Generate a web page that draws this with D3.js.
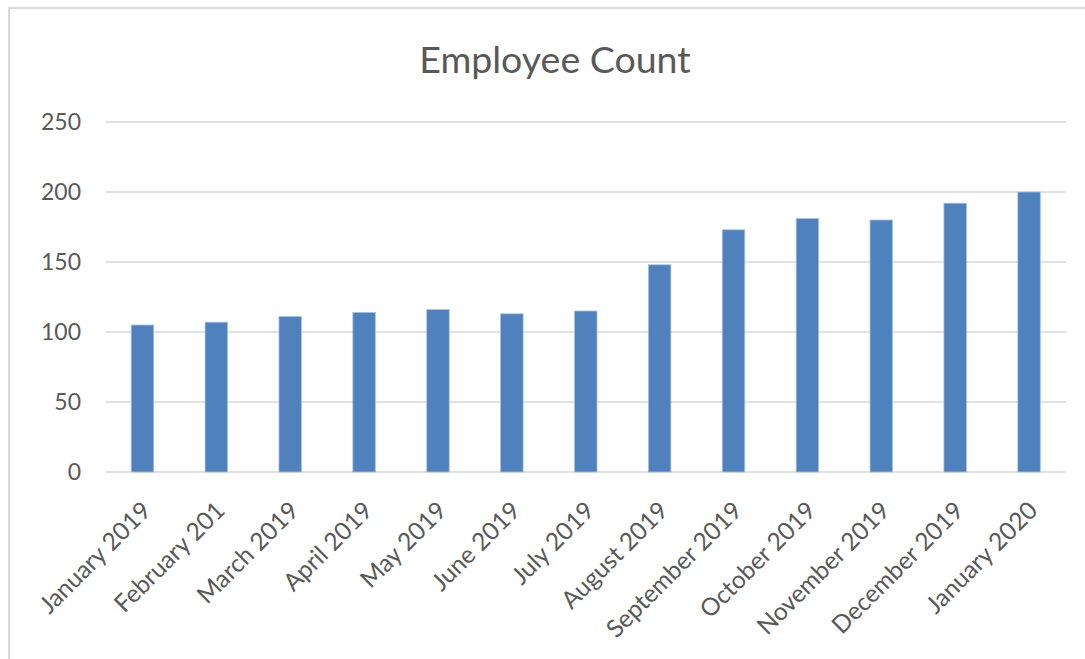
<!DOCTYPE html>
<html><head><meta charset="utf-8">
<script src="https://cdn.jsdelivr.net/npm/d3@7"></script>
<style>
html,body{margin:0;padding:0;background:#fff;}
svg{display:block;}
</style></head>
<body>
<svg id="chart" width="1085" height="659"></svg>
<script>
const categories = ["January 2019","February 201","March 2019","April 2019","May 2019","June 2019","July 2019","August 2019","September 2019","October 2019","November 2019","December 2019","January 2020"];
const values = [105,107,111,114,116,113,115,148,173,181,180,192,200];
const yTicks = [0,50,100,150,200,250];
const title = "Employee Count";

const svg = d3.select("#chart");
const font = "Lato, 'Open Sans', sans-serif";
const textColor = "#595959";

// outer chart border (top & left visible)
svg.append("rect").attr("x",9).attr("y",8).attr("width",1200).attr("height",800)
  .attr("fill","none").attr("stroke","#d9d9d9").attr("stroke-width",2);

const plotL = 105.5, plotR = 1066;
const x = d3.scaleBand().domain(categories).range([plotL, plotR]).padding(0);
const y = d3.scaleLinear().domain([0,250]).range([472,122]);

// gridlines
svg.append("g").selectAll("line").data(yTicks).join("line")
  .attr("x1",plotL).attr("x2",plotR)
  .attr("y1",d=>y(d)).attr("y2",d=>y(d))
  .attr("stroke","#d9d9d9").attr("stroke-width",1.6);

// y labels
svg.append("g").selectAll("text").data(yTicks).join("text")
  .attr("x",81).attr("y",d=>y(d)).attr("dy","0.36em")
  .attr("text-anchor","end").attr("font-family",font).attr("font-size",23)
  .attr("fill",textColor).text(d=>d);

// bars
const bw = 22.5;
svg.append("g").selectAll("rect").data(values).join("rect")
  .attr("x",(d,i)=>x(categories[i])+x.bandwidth()/2-bw/2)
  .attr("width",bw)
  .attr("y",d=>y(d)).attr("height",d=>y(0)-y(d))
  .attr("fill","#4f81bd").attr("stroke","#a9c1e0").attr("stroke-width",0.8);

// x labels
const xfs = 24.5;
svg.append("g").selectAll("text").data(categories).join("text")
  .attr("transform",d=>`translate(${x(d)+x.bandwidth()/2+10},${512}) rotate(-45)`)
  .attr("text-anchor","end")
  .attr("font-family",font).attr("font-size",xfs)
  .attr("fill",textColor).text(d=>d);

// title
svg.append("text").attr("x",555).attr("y",73).attr("text-anchor","middle")
  .attr("font-family",font).attr("font-size",37.5).attr("fill",textColor).text(title);
</script>
</body></html>
